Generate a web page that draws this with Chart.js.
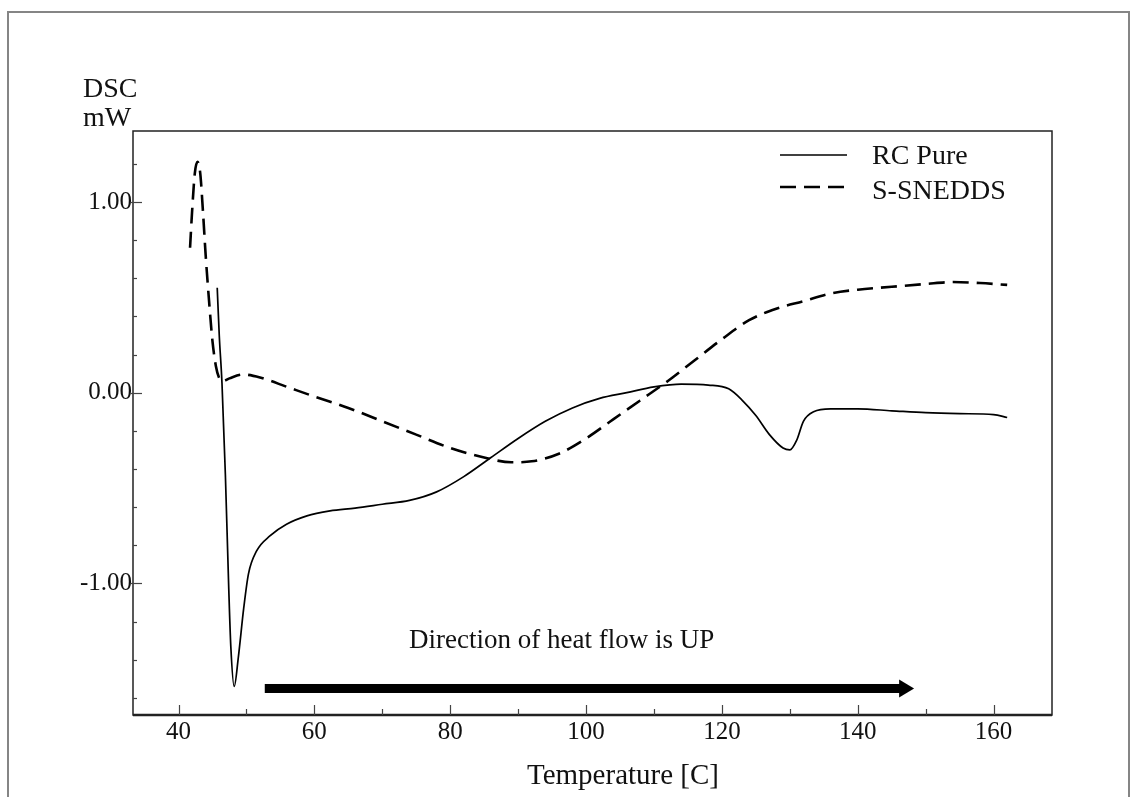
<!DOCTYPE html>
<html lang="en">
<head>
<meta charset="UTF-8">
<title>DSC thermogram</title>
<script src="https://cdn.jsdelivr.net/npm/chart.js"></script>
<style>
  html, body { margin: 0; padding: 0; background: #fff; }
  #wrap { width: 1131px; height: 797px; }
</style>
</head>
<body>
<div id="wrap"><canvas id="dscChart" width="1131" height="797"></canvas></div>
<script>
// RC Pure: temperature (C) and heat flow (mW)
const rcTemp = [45.7, 46.0, 46.4, 46.9, 47.4, 47.7, 48.2, 48.8, 49.6, 50.3, 51.5, 53.5, 55.9, 58.9, 62.3,
  66, 70, 74, 78, 82, 86, 90, 94, 98, 102, 106, 110, 114, 118, 121, 123, 125, 127, 129, 130,
  131, 132, 133.5, 136, 140, 145, 150, 155, 160, 162];
const rcFlow = [0.55, 0.30, 0.05, -0.43, -1.03, -1.33, -1.54, -1.39, -1.13, -0.95, -0.83, -0.75, -0.69, -0.646, -0.62,
  -0.605, -0.585, -0.565, -0.52, -0.44, -0.34, -0.24, -0.15, -0.08, -0.03, 0.00, 0.03, 0.045, 0.04, 0.02, -0.04, -0.12, -0.22, -0.29, -0.30,
  -0.25, -0.15, -0.10, -0.085, -0.085, -0.095, -0.105, -0.11, -0.115, -0.13];

// S-SNEDDS
const sneddsTemp = [41.7, 42.0, 42.4, 42.8, 43.2, 43.6, 44.0, 44.5, 45.0, 45.5, 46.0, 46.5, 47.5, 49.5, 52,
  56, 60, 65, 70, 75, 80, 85, 89, 92, 96, 100, 104, 108, 112, 116, 120, 124, 128, 132, 136,
  140, 145, 150, 154, 158, 162];
const sneddsFlow = [0.76, 0.95, 1.15, 1.21, 1.15, 0.95, 0.72, 0.48, 0.27, 0.14, 0.075, 0.06, 0.075, 0.095, 0.08,
  0.03, -0.02, -0.08, -0.15, -0.22, -0.29, -0.34, -0.365, -0.36, -0.32, -0.24, -0.14, -0.04, 0.06, 0.17, 0.28, 0.38, 0.44, 0.48, 0.52,
  0.54, 0.555, 0.57, 0.58, 0.575, 0.565];

const seriesNames = ['RC Pure', 'S-SNEDDS'];
const xTickLabels = [40, 60, 80, 100, 120, 140, 160];
const yTickLabels = [-1, 0, 1];

// arrow note, in data units
const arrowFrom = 52.7, arrowTo = 148.3, arrowLevel = -1.551;
const noteText = 'Direction of heat flow is UP';
const noteX = 96.4, noteY = -1.30;

const FONT = '"Liberation Serif", "Times New Roman", serif';

function toPoints(xs, ys) {
  return xs.map((x, i) => ({ x: x, y: ys[i] }));
}

const decorations = {
  id: 'decorations',
  beforeDraw(chart) {
    const ctx = chart.ctx;
    ctx.save();
    ctx.fillStyle = '#fff';
    ctx.fillRect(0, 0, chart.width, chart.height);
    // outer frame
    ctx.strokeStyle = '#858585';
    ctx.lineWidth = 2;
    ctx.beginPath();
    ctx.moveTo(8, chart.height);
    ctx.lineTo(8, 12);
    ctx.lineTo(chart.width - 2, 12);
    ctx.lineTo(chart.width - 2, chart.height);
    ctx.stroke();
    ctx.restore();
  },
  afterDraw(chart) {
    const ctx = chart.ctx;
    const a = chart.chartArea;
    const xs = chart.scales.x, ys = chart.scales.y;
    ctx.save();

    // plot box
    ctx.strokeStyle = '#222';
    ctx.lineWidth = 1.5;
    ctx.strokeRect(a.left, a.top, a.right - a.left, a.bottom - a.top);
    ctx.lineWidth = 2.5;
    ctx.beginPath();
    ctx.moveTo(a.left, a.bottom);
    ctx.lineTo(a.right, a.bottom);
    ctx.stroke();

    // inward tick marks
    ctx.lineWidth = 1.2;
    ctx.strokeStyle = '#444';
    xs.ticks.forEach(t => {
      const px = Math.round(xs.getPixelForValue(t.value)) + 0.5;
      const len = xTickLabels.includes(t.value) ? 10 : 6;
      ctx.beginPath();
      ctx.moveTo(px, a.bottom);
      ctx.lineTo(px, a.bottom - len);
      ctx.stroke();
    });
    ys.ticks.forEach(t => {
      const py = Math.round(ys.getPixelForValue(t.value)) + 0.5;
      const major = Math.abs(t.value - Math.round(t.value)) < 1e-6;
      ctx.beginPath();
      ctx.moveTo(a.left - (major ? 2 : 0), py);
      ctx.lineTo(a.left + (major ? 9 : 4), py);
      ctx.stroke();
    });

    // axis unit labels
    ctx.fillStyle = '#111';
    ctx.font = '28px ' + FONT;
    ctx.textAlign = 'left';
    ctx.textBaseline = 'alphabetic';
    ctx.fillText('DSC', 83, 97);
    ctx.fillText('mW', 83, 126);

    // x title
    ctx.font = '29px ' + FONT;
    ctx.textAlign = 'center';
    ctx.fillText('Temperature [C]', 623, 784);

    // legend
    const ds = chart.data.datasets;
    const rows = [155, 187];
    ds.forEach((d, i) => {
      ctx.strokeStyle = d.borderColor;
      ctx.lineWidth = d.borderWidth;
      ctx.setLineDash(d.borderDash || []);
      ctx.beginPath();
      ctx.moveTo(780, rows[i]);
      ctx.lineTo(847, rows[i]);
      ctx.stroke();
      ctx.setLineDash([]);
      ctx.font = '28px ' + FONT;
      ctx.textAlign = 'left';
      ctx.textBaseline = 'middle';
      ctx.fillStyle = '#111';
      ctx.fillText(d.label, 872, rows[i] + (i === 0 ? 2 : 5));
    });

    // heat flow note and arrow
    ctx.font = '27px ' + FONT;
    ctx.textAlign = 'center';
    ctx.textBaseline = 'middle';
    ctx.fillText(noteText, xs.getPixelForValue(noteX), ys.getPixelForValue(noteY));

    const x0 = xs.getPixelForValue(arrowFrom);
    const x1 = xs.getPixelForValue(arrowTo);
    const yy = ys.getPixelForValue(arrowLevel);
    ctx.fillStyle = '#000';
    ctx.fillRect(x0, yy - 4.5, (x1 - 14) - x0, 9);
    ctx.beginPath();
    ctx.moveTo(x1 - 15, yy - 9);
    ctx.lineTo(x1, yy);
    ctx.lineTo(x1 - 15, yy + 9);
    ctx.closePath();
    ctx.fill();

    ctx.restore();
  }
};

new Chart(document.getElementById('dscChart'), {
  type: 'line',
  data: {
    datasets: [
      {
        label: seriesNames[0],
        data: toPoints(rcTemp, rcFlow),
        borderColor: '#000',
        borderWidth: 1.7,
        pointRadius: 0,
        cubicInterpolationMode: 'monotone',
        fill: false
      },
      {
        label: seriesNames[1],
        data: toPoints(sneddsTemp, sneddsFlow),
        borderColor: '#000',
        borderWidth: 2.6,
        borderDash: [16, 8],
        pointRadius: 0,
        cubicInterpolationMode: 'monotone',
        fill: false
      }
    ]
  },
  options: {
    responsive: false,
    animation: false,
    devicePixelRatio: 1,
    layout: { padding: { top: 131, right: 79, left: 0, bottom: 0 } },
    plugins: {
      legend: { display: false },
      tooltip: { enabled: false }
    },
    scales: {
      x: {
        type: 'linear',
        min: 33.3,
        max: 168.6,
        grid: { display: false, drawTicks: false },
        border: { display: false },
        ticks: {
          stepSize: 10,
          includeBounds: false,
          autoSkip: false,
          maxRotation: 0,
          padding: 2,
          color: '#111',
          font: { family: FONT, size: 25 },
          callback: v => xTickLabels.includes(v) ? String(v) : ''
        },
        afterFit: s => { s.height = 82; }
      },
      y: {
        type: 'linear',
        min: -1.69,
        max: 1.372,
        grid: { display: false, drawTicks: false },
        border: { display: false },
        ticks: {
          stepSize: 0.2,
          includeBounds: false,
          autoSkip: false,
          padding: 1,
          color: '#111',
          font: { family: FONT, size: 25 },
          callback: v => yTickLabels.some(t => Math.abs(t - v) < 1e-6) ? v.toFixed(2) : ''
        },
        afterFit: s => { s.width = 133; }
      }
    }
  },
  plugins: [decorations]
});
</script>
</body>
</html>
